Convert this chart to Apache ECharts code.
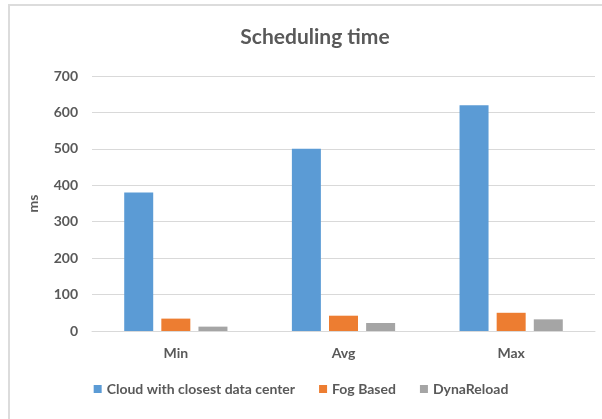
<!DOCTYPE html>
<html>
<head>
<meta charset="utf-8">
<script src="https://cdn.jsdelivr.net/npm/echarts@6/dist/echarts.min.js"></script>
<style>
	html, body { margin: 0; padding: 0; background: #fff; }
	#wrap { position: relative; width: 602px; height: 419px; overflow: hidden; }
	#frame { position: absolute; left: 8px; top: 4px; width: 620px; height: 430px;
		border-top: 2px solid #dcdcdc; border-left: 2px solid #dcdcdc; box-sizing: border-box; }
	#chart { position: absolute; left: 0; top: 0; width: 602px; height: 419px; }
</style>
</head>
<body>
<div id="wrap">
	<div id="frame"></div>
	<div id="chart"></div>
</div>
<script>
var categories = ['Min', 'Avg', 'Max'];
var cloudValues = [380, 500, 620];
var fogValues = [34, 42, 50];
var dynaValues = [12, 22, 32];
var yTicks = [0, 100, 200, 300, 400, 500, 600, 700];

var textColor = '#595959';
var fontName = 'Lato';

var mainChart = echarts.init(document.getElementById('chart'));

function barSeries(name, values, color) {
	return {
		name: name,
		type: 'bar',
		data: values,
		barWidth: 29,
		barGap: '28%',
		itemStyle: { color: color },
		emphasis: { disabled: true }
	};
}

mainChart.setOption({
	animation: false,
	title: {
		text: 'Scheduling time',
		left: 310,
		top: 22,
		textAlign: 'center',
		textStyle: {
			color: textColor,
			fontFamily: fontName,
			fontSize: 21,
			fontWeight: 'bold'
		}
	},
	legend: {
		bottom: 18,
		left: 'center',
		itemWidth: 8,
		itemHeight: 8,
		itemGap: 24,
		icon: 'rect',
		textStyle: {
			color: textColor,
			fontFamily: fontName,
			fontSize: 14,
			fontWeight: 'bold'
		},
		data: ['Cloud with closest data center', 'Fog Based', 'DynaReload']
	},
	grid: {
		left: 92,
		right: 7,
		top: 76,
		bottom: 88
	},
	xAxis: {
		type: 'category',
		data: categories,
		axisTick: { show: false },
		axisLine: { lineStyle: { color: '#d9d9d9', width: 1 } },
		axisLabel: {
			color: textColor,
			fontFamily: fontName,
			fontSize: 14,
			fontWeight: 'bold',
			margin: 15
		}
	},
	yAxis: {
		type: 'value',
		min: yTicks[0],
		max: yTicks[yTicks.length - 1],
		interval: 100,
		name: 'ms',
		nameLocation: 'middle',
		nameGap: 52,
		nameTextStyle: {
			color: textColor,
			fontFamily: fontName,
			fontSize: 14,
			fontWeight: 'bold'
		},
		axisLine: { show: false },
		axisTick: { show: false },
		splitLine: { lineStyle: { color: '#d9d9d9', width: 1 } },
		axisLabel: {
			color: textColor,
			fontFamily: fontName,
			fontSize: 14,
			fontWeight: 'bold',
			margin: 14
		}
	},
	series: [
		barSeries('Cloud with closest data center', cloudValues, '#5b9bd5'),
		barSeries('Fog Based', fogValues, '#ed7d31'),
		barSeries('DynaReload', dynaValues, '#a5a5a5')
	]
});
</script>
</body>
</html>
